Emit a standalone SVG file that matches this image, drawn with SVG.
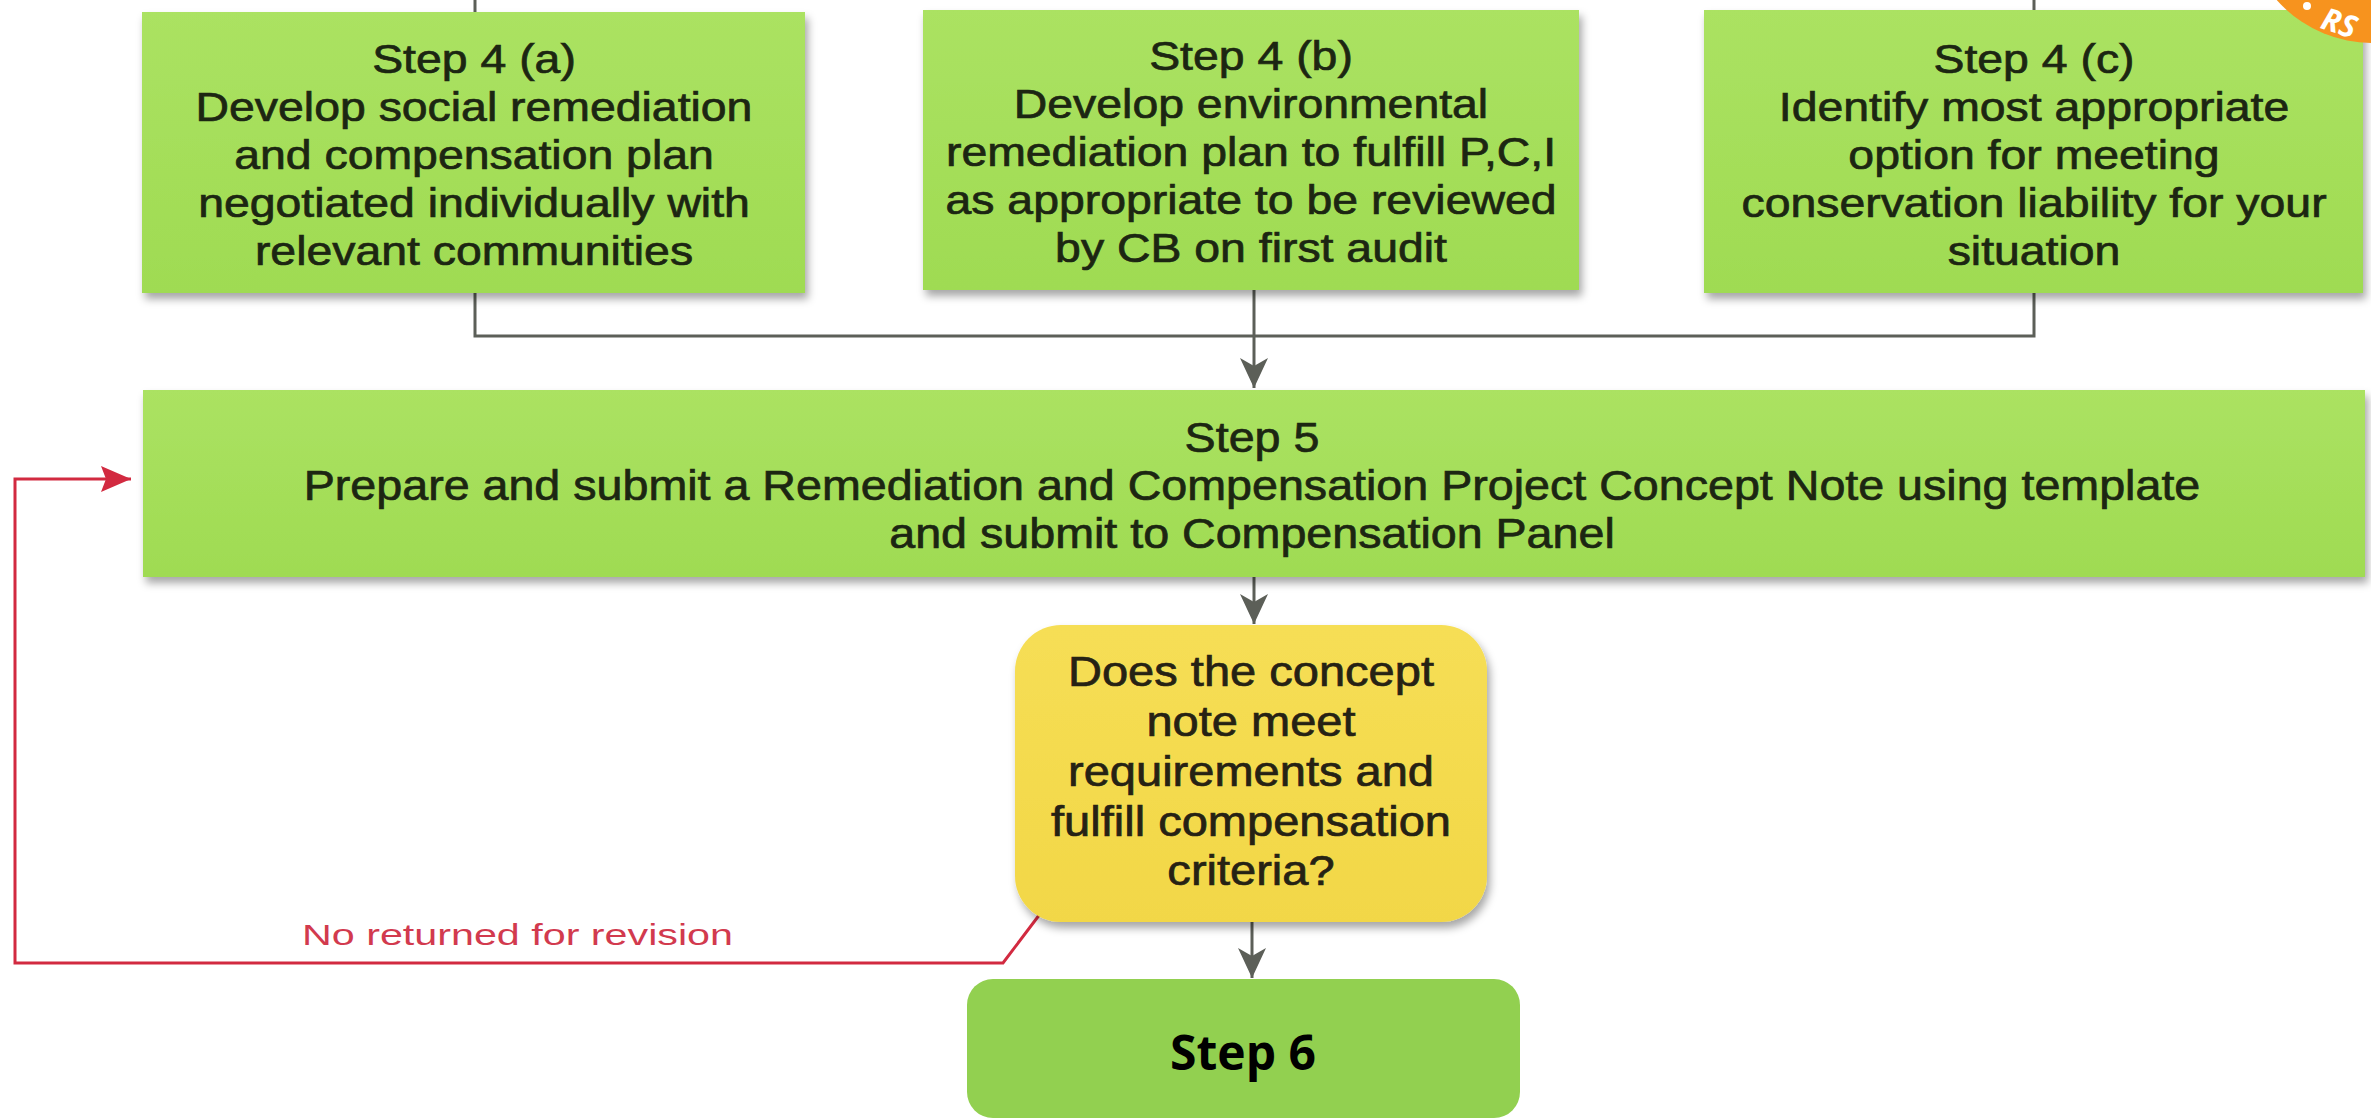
<svg xmlns="http://www.w3.org/2000/svg" width="2371" height="1120" viewBox="0 0 2371 1120">
<defs>
<style>
.box{fill:url(#gg);filter:url(#sh)}
.dec{fill:url(#gy);filter:url(#sh)}
.t{font-family:"Liberation Sans",Arial,Helvetica,sans-serif;fill:#1c2612;stroke:#1c2612;stroke-width:0.7px;text-anchor:middle}
.t4{font-size:40px}
.t5{font-size:42px}
.td{font-size:42px;fill:#262214;stroke:#262214}
.conn{stroke:#5c5f58;stroke-width:3;fill:none}
.red{stroke:#d22a40;stroke-width:3;fill:none}
.lbl{font-family:"Liberation Sans",Arial,sans-serif;font-size:30px;fill:#d23a4e}
.s6{font-family:"Open Sans","Liberation Sans",sans-serif;font-weight:700;font-size:48px;fill:#000;text-anchor:middle}
</style>
<linearGradient id="gg" x1="0" y1="0" x2="0" y2="1">
<stop offset="0" stop-color="#abe262"/>
<stop offset="1" stop-color="#9fdb52"/>
</linearGradient>
<linearGradient id="gy" x1="0" y1="0" x2="0" y2="1">
<stop offset="0" stop-color="#f6de55"/>
<stop offset="1" stop-color="#f2d747"/>
</linearGradient>
<filter id="sh" x="-5%" y="-5%" width="115%" height="120%">
<feDropShadow dx="3" dy="6" stdDeviation="4" flood-color="#000" flood-opacity="0.35"/>
</filter>
<marker id="ag" viewBox="0 0 30 28" refX="30" refY="14" markerWidth="30" markerHeight="28" markerUnits="userSpaceOnUse" orient="auto">
<path d="M0,0 L30,14 L0,28 L8,14 Z" fill="#5c5f58"/>
</marker>
<marker id="ar" viewBox="0 0 30 26" refX="30" refY="13" markerWidth="30" markerHeight="26" markerUnits="userSpaceOnUse" orient="auto">
<path d="M0,0 L30,13 L0,26 L5,13 Z" fill="#d22a40"/>
</marker>
</defs>
<rect width="2371" height="1120" fill="#fff"/>

<g id="connectors">
<path class="conn" d="M475,0 V12"/>
<path class="conn" d="M2034,0 V10"/>
<path class="conn" d="M475,293 V336 H2034 V293"/>
<path class="conn" d="M1254,290 V388" marker-end="url(#ag)"/>
<path class="conn" d="M1254,577 V624" marker-end="url(#ag)"/>
<path class="conn" d="M1252,922 V978" marker-end="url(#ag)"/>
<path class="red" d="M1043,910 L1003,963 H15 V479 H131" marker-end="url(#ar)"/>
<text class="lbl" x="302" y="945" textLength="431" lengthAdjust="spacingAndGlyphs">No returned for revision</text>
</g>

<g id="step4a">
<rect class="box" x="142" y="12" width="663" height="281"/>
<g transform="translate(474 0) scale(1.16 1)" class="t t4">
<text x="0" y="73">Step 4 (a)</text>
<text x="0" y="121">Develop social remediation</text>
<text x="0" y="169">and compensation plan</text>
<text x="0" y="217">negotiated individually with</text>
<text x="0" y="265">relevant communities</text>
</g>
</g>

<g id="step4b">
<rect class="box" x="923" y="10" width="656" height="280"/>
<g transform="translate(1251 0) scale(1.16 1)" class="t t4">
<text x="0" y="70">Step 4 (b)</text>
<text x="0" y="118">Develop environmental</text>
<text x="0" y="166">remediation plan to fulfill P,C,I</text>
<text x="0" y="214">as appropriate to be reviewed</text>
<text x="0" y="262">by CB on first audit</text>
</g>
</g>

<g id="step4c">
<rect class="box" x="1704" y="10" width="659" height="283"/>
<g transform="translate(2034 0) scale(1.16 1)" class="t t4">
<text x="0" y="73">Step 4 (c)</text>
<text x="0" y="121">Identify most appropriate</text>
<text x="0" y="169">option for meeting</text>
<text x="0" y="217">conservation liability for your</text>
<text x="0" y="265">situation</text>
</g>
</g>

<g id="step5">
<rect class="box" x="143" y="390" width="2222" height="187"/>
<g transform="translate(1252 0) scale(1.11 1)" class="t t5">
<text x="0" y="452">Step 5</text>
<text x="0" y="500">Prepare and submit a Remediation and Compensation Project Concept Note using template</text>
<text x="0" y="548">and submit to Compensation Panel</text>
</g>
</g>

<g id="decision">
<rect class="dec" x="1015" y="625" width="472" height="297" rx="46"/>
<g transform="translate(1251 0) scale(1.12 1)" class="t td">
<text x="0" y="686">Does the concept</text>
<text x="0" y="736">note meet</text>
<text x="0" y="786">requirements and</text>
<text x="0" y="836">fulfill compensation</text>
<text x="0" y="885">criteria?</text>
</g>
</g>

<g id="step6">
<rect x="967" y="979" width="553" height="139" rx="26" fill="#92d050"/>
<text class="s6" x="1243" y="1070">Step 6</text>
</g>

<g id="badge">
<circle cx="2372" cy="-84" r="127" fill="#f7931e"/>
<text x="2322" y="34" transform="rotate(18 2340 22)" font-family="'Open Sans','Liberation Sans',sans-serif" font-weight="700" font-style="italic" font-size="31" fill="#fff">RS</text>
<circle cx="2307" cy="6" r="4" fill="#fff"/>
</g>
</svg>
